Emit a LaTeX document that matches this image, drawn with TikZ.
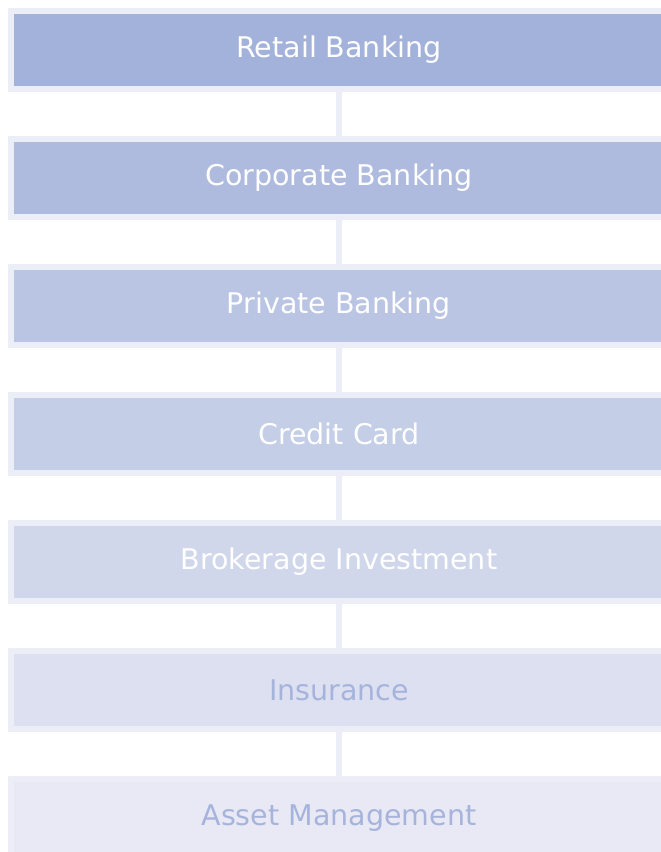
\documentclass[tikz,border=0pt]{standalone}
\usepackage{fontspec}
\setmainfont{DejaVu Sans}
\definecolor{edgec}{HTML}{EBEDF7}
\definecolor{c1}{HTML}{A3B2DA}
\definecolor{c2}{HTML}{AEBBDE}
\definecolor{c3}{HTML}{BAC4E3}
\definecolor{c4}{HTML}{C5CEE7}
\definecolor{c5}{HTML}{D1D7EB}
\definecolor{c6}{HTML}{DCE0F0}
\definecolor{c7}{HTML}{E8E9F4}
\definecolor{txtblue}{HTML}{A6B4DC}
\tikzset{
  box/.style={draw=edgec, line width=5.75pt, minimum width=656.25pt, minimum height=78.25pt,
    inner sep=0pt, font=\fontsize{28.5}{32}\selectfont, text=white},
  conn/.style={draw=edgec, line width=5.5pt}
}
\begin{document}
\begin{tikzpicture}[x=1pt,y=1pt]
\useasboundingbox[fill=white] (0,0) rectangle (661,-852);
\begin{scope}
\clip (0,0) rectangle (661,-852);
\node[box, fill=c1] (b1) at (339,-50) {Retail Banking};
\node[box, fill=c2] (b2) at (339,-178) {Corporate Banking};
\node[box, fill=c3] (b3) at (339,-306) {Private Banking};
\node[box, fill=c4] (b4) at (339,-434) {Credit Card};
\node[box, fill=c5] (b5) at (339,-562) {Brokerage Investment};
\node[box, fill=c6, text=txtblue] (b6) at (339,-690) {Insurance};
\node[box, fill=c7, text=txtblue] (b7) at (339,-818) {Asset Management};
\draw[conn] (b1.south) -- (b2.north);
\draw[conn] (b2.south) -- (b3.north);
\draw[conn] (b3.south) -- (b4.north);
\draw[conn] (b4.south) -- (b5.north);
\draw[conn] (b5.south) -- (b6.north);
\draw[conn] (b6.south) -- (b7.north);
\end{scope}
\end{tikzpicture}
\end{document}
